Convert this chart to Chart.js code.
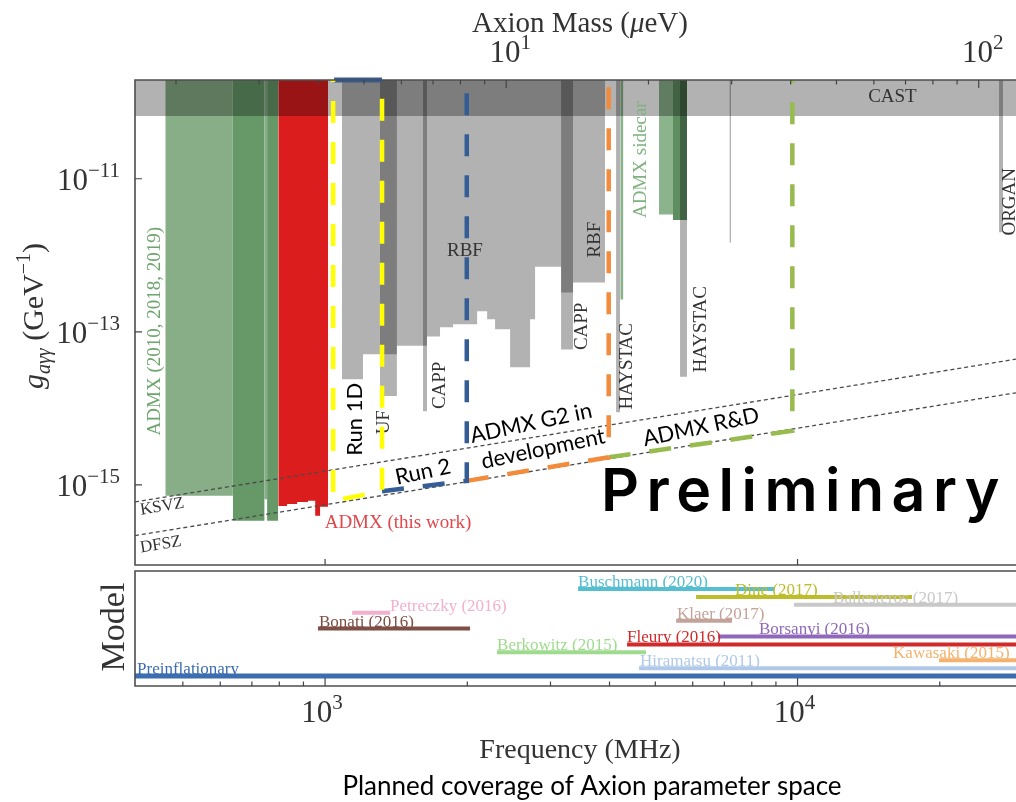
<!DOCTYPE html>
<html>
<head>
<meta charset="utf-8">
<title>Axion search coverage</title>
<script src="https://cdn.jsdelivr.net/npm/chart.js@4.4.1/dist/chart.umd.min.js"></script>
<style>
  body { margin: 0; background: #fff; }
  #stage { position: relative; width: 1016px; height: 802px; overflow: hidden; background: #fff; }
  #stage canvas { position: absolute; left: 0; top: 0; }
</style>
</head>
<body>
<div id="stage">
  <canvas id="limits" width="1016" height="802"></canvas>
  <canvas id="models" width="1016" height="802"></canvas>
</div>
<script>
const serif = '"Liberation Serif", "DejaVu Serif", serif';
const sans = 'Lato, "Open Sans", sans-serif';
const ink = '#333333';

// axis ranges
const freqMin = 396, freqMax = 29000;      // MHz
const gMin = 9.35e-17, gMax = 1.95e-10;    // GeV^-1
const mhzPerMicroEV = 241.8;
const massTicks = [2, 3, 4, 5, 6, 7, 8, 9, 10, 20, 30, 40, 50, 60, 70, 80, 90, 100];
const massLabels = [10, 100];
const gTicks = [1e-11, 1e-13, 1e-15];
const freqTicks = [500, 600, 700, 800, 900, 1000, 2000, 3000, 4000, 5000, 6000, 7000, 8000, 9000, 10000, 20000];
const freqLabels = [1000, 10000];

// exclusion limits, each entry is [f low (MHz), f high (MHz), g limit]
const castLimit = 6.6e-11;
const admxPastLight = [[459, 638, 7.2e-16], [744, 754, 6.5e-16]];
const admxPastDark = [[638, 744, 3.4e-16], [754, 796, 3.4e-16]];
const admxThisWork = [[796, 831, 5.3e-16], [831, 873, 5.65e-16], [873, 920, 6.0e-16],
                      [920, 953, 6.2e-16], [953, 976, 3.95e-16], [976, 1015, 5.2e-16]];
const admxSidecarLight = [[4215, 4275, 2.65e-13], [5090, 5450, 3.4e-12]];
const admxSidecarDark = [[5450, 5836, 2.9e-12]];
const rbf = [[1086, 1203, 2.4e-14], [1203, 1419, 5.1e-14], [1419, 1643, 6.6e-14],
             [1643, 1751, 8.7e-14], [1751, 1866, 1.15e-13], [1866, 2098, 1.26e-13],
             [2098, 2203, 1.86e-13], [2203, 2290, 1.46e-13], [2290, 2464, 1.08e-13],
             [2464, 2716, 3.44e-14], [2716, 2783, 1.46e-13], [2783, 3159, 7.1e-13],
             [3159, 3349, 3.27e-13], [3349, 3913, 4.4e-13]];
const uf = [[1307, 1419, 1.45e-14]];
const capp = [[1612, 1643, 9.2e-15], [3159, 3349, 5.9e-14]];
const haystac = [[4130, 4210, 8.9e-15], [5640, 5836, 2.6e-14]];
const otherGray = [[7175, 7235, 1.47e-12]];
const organ = [[26700, 27220, 2.0e-12]];

// benchmark model lines
const ksvzFreq = [396, 29000], ksvzG = [6.0e-16, 4.4e-14];
const dfszFreq = [396, 29000], dfszG = [2.18e-16, 1.6e-14];

// planned coverage: box edges in MHz and the coupling reached at each edge
const planEdges = [1040, 1320, 1995, 3984, 9750];
const planFloor = [6.2e-16, 8.3e-16, 1.13e-15, 2.3e-15, 5.1e-15];
const planColors = ['#ffff00', '#345d96', '#f28c3c', '#98bb4f'];
const run2TopEdge = [1045, 1320];

// dark matter mass predictions (bottom panel), one row each
const modelNames = ['Preinflationary', 'Hiramatsu (2011)', 'Kawasaki (2015)', 'Berkowitz (2015)',
                    'Fleury (2016)', 'Borsanyi (2016)', 'Bonati (2016)', 'Klaer (2017)',
                    'Petreczky (2016)', 'Ballesteros (2017)', 'Dine (2017)', 'Buschmann (2020)'];
const modelLo = [300, 4619, 19930, 2312, 4357, 6786, 966, 5534, 1141, 9831, 6099, 3431];
const modelHi = [40000, 40000, 40000, 4780, 40000, 40000, 2027, 7268, 1373, 40000, 17470, 8919];
const modelLabelAt = [400, 4642, 15930, 2312, 4357, 8287, 971, 5559, 1373, 11890, 7376, 3431];
const modelColors = ['#3c6db0', '#b0c9e8', '#f5b26e', '#9edb8e', '#d02a2a', '#9068bb',
                     '#7e4f45', '#c3a29a', '#f2b0cd', '#c8c8c8', '#bdbd2a', '#55bfd1'];

// names written on the limit plot
const expLabels = [
  { text: 'CAST', f: 15880, g: 1.17e-10, rot: 0, color: ink },
  { text: 'ADMX (2010, 2018, 2019)', f: 437, g: 1.02e-13, rot: -90, color: '#6ea56e' },
  { text: 'RBF', f: 1977, g: 1.15e-12, rot: 0, color: ink },
  { text: 'RBF', f: 3726, g: 1.6e-12, rot: -90, color: ink },
  { text: 'UF', f: 1333, g: 6.6e-15, rot: -90, color: ink },
  { text: 'CAPP', f: 1751, g: 2.0e-14, rot: -90, color: ink },
  { text: 'CAPP', f: 3499, g: 1.18e-13, rot: -90, color: ink },
  { text: 'HAYSTAC', f: 4357, g: 3.55e-14, rot: -90, color: ink },
  { text: 'ADMX sidecar', f: 4665, g: 1.77e-11, rot: -90, color: '#7fb27f' },
  { text: 'HAYSTAC', f: 6250, g: 1.08e-13, rot: -90, color: ink },
  { text: 'ORGAN', f: 28170, g: 5.0e-12, rot: -90, color: ink },
  { text: 'KSVZ', f: 452, g: 5.2e-16, rot: -9.2, color: ink },
  { text: 'DFSZ', f: 449, g: 1.65e-16, rot: -9.2, color: ink },
  { text: 'ADMX (this work)', f: 1427, g: 3.2e-16, rot: 0, color: '#e2474b' }
];

const notes = [
  { text: 'Run 1D', f: 1157, g: 7.2e-15, rot: -90 },
  { text: 'Run 2', f: 1612, g: 1.48e-15, rot: -12 },
  { text: 'ADMX G2 in', f: 2729, g: 6.4e-15, rot: -12 },
  { text: 'development', f: 2894, g: 2.95e-15, rot: -12 },
  { text: 'ADMX R&D', f: 6250, g: 5.7e-15, rot: -12 }
];

// ---------- helpers ----------
function bandPoints(ranges) {
  const pts = [];
  ranges.slice().sort((a, b) => a[0] - b[0]).forEach(([lo, hi, g]) => {
    pts.push({ x: lo, y: gMax }, { x: lo, y: g }, { x: hi, y: g }, { x: hi, y: gMax });
  });
  return pts;
}

function region(label, ranges, color, order) {
  return {
    label: label, data: bandPoints(ranges), fill: 'end', backgroundColor: color,
    borderColor: 'transparent', borderWidth: 0, pointRadius: 0, order: order, clip: 0
  };
}

function planPath(i) {
  const pts = [];
  if (i === 0) pts.push({ x: planEdges[0], y: gMax });
  pts.push({ x: planEdges[i], y: planFloor[i] });
  pts.push({ x: planEdges[i + 1], y: planFloor[i + 1] }, { x: planEdges[i + 1], y: gMax });
  return pts;
}

function putText(ctx, text, x, y, font, color, rotDeg, align) {
  ctx.save();
  ctx.translate(x, y);
  ctx.rotate((rotDeg || 0) * Math.PI / 180);
  ctx.font = font;
  ctx.fillStyle = color;
  ctx.textAlign = align || 'center';
  ctx.textBaseline = 'middle';
  ctx.fillText(text, 0, 0);
  ctx.restore();
}

// pieces of text with their own font and vertical shift (for sub/superscripts)
function richText(ctx, parts, x, y, align) {
  let w = 0;
  parts.forEach(p => { ctx.font = p.font; p.w = ctx.measureText(p.text).width; w += p.w; });
  let cx = align === 'right' ? x - w : align === 'center' ? x - w / 2 : x;
  ctx.textAlign = 'left';
  ctx.textBaseline = 'alphabetic';
  parts.forEach(p => { ctx.font = p.font; ctx.fillText(p.text, cx, y + (p.dy || 0)); cx += p.w; });
}

function pow10(ctx, exp, x, y, align) {
  richText(ctx, [
    { text: '10', font: `31px ${serif}` },
    { text: exp, font: `21px ${serif}`, dy: -13 }
  ], x, y, align);
}

// ---------- upper panel: coupling limits ----------
const limitSets = [];
planColors.forEach((c, i) => limitSets.push({
  label: 'plan' + i, data: planPath(i), borderColor: c, borderWidth: 4.5,
  borderDash: [22, 19], borderDashOffset: i === 0 ? 20 : 0, borderCapStyle: 'butt',
  fill: false, pointRadius: 0, order: 0,
  clip: { left: 0, top: 6, right: 0, bottom: 0 }
}));
limitSets.push({
  label: 'run2 top', data: run2TopEdge.map(f => ({ x: f, y: gMax })), borderColor: planColors[1],
  borderWidth: 5, fill: false, pointRadius: 0, order: 0, clip: { left: 0, top: 6, right: 0, bottom: 0 }
});
limitSets.push({
  label: 'KSVZ', data: ksvzFreq.map((f, i) => ({ x: f, y: ksvzG[i] })), borderColor: '#4a4a4a',
  borderWidth: 1.3, borderDash: [4, 3], fill: false, pointRadius: 0, order: 1, clip: 0
});
limitSets.push({
  label: 'DFSZ', data: dfszFreq.map((f, i) => ({ x: f, y: dfszG[i] })), borderColor: '#4a4a4a',
  borderWidth: 1.3, borderDash: [4, 3], fill: false, pointRadius: 0, order: 1, clip: 0
});
limitSets.push(region('CAST', [[300, 40000, castLimit]], 'rgba(0,0,0,0.3)', 2));
limitSets.push(region('RBF', rbf, 'rgba(0,0,0,0.3)', 3));
limitSets.push(region('UF', uf, 'rgba(0,0,0,0.3)', 3));
limitSets.push(region('CAPP', capp, 'rgba(0,0,0,0.3)', 3));
limitSets.push(region('HAYSTAC', haystac, 'rgba(0,0,0,0.3)', 3));
limitSets.push(region('other', otherGray, 'rgba(0,0,0,0.3)', 3));
limitSets.push(region('ORGAN', organ, 'rgba(0,0,0,0.3)', 3));
limitSets.push(region('ADMX past', admxPastLight, '#87ae87', 4));
limitSets.push(region('ADMX past deep', admxPastDark, '#669868', 4));
limitSets.push(region('ADMX this work', admxThisWork, '#dc1d1d', 4));
limitSets.push(region('ADMX sidecar', admxSidecarLight, '#8cb48c', 4));
limitSets.push(region('ADMX sidecar deep', admxSidecarDark, '#5f8e61', 4));

const limitDecor = {
  id: 'limitDecor',
  afterDatasetDraw(chart, args) {
    // experiment names go above the shaded limits but under the planned boxes
    if (chart.data.datasets[args.index].label !== 'CAST') return;
    const { ctx, scales: { x, y } } = chart;
    expLabels.forEach(l => {
      putText(ctx, l.text, x.getPixelForValue(l.f), y.getPixelForValue(l.g),
        `${l.rot === -9.2 ? 17 : 19}px ${serif}`, l.color, l.rot);
    });
  },
  afterDatasetsDraw(chart) {
    const { ctx, scales: { x, y } } = chart;
    notes.forEach(n => {
      putText(ctx, n.text, x.getPixelForValue(n.f), y.getPixelForValue(n.g),
        `22px ${sans}`, '#000', n.rot);
    });
    ctx.save();
    ctx.font = `600 59px Inter, "Liberation Sans", sans-serif`;
    ctx.letterSpacing = '7.5px';
    ctx.fillStyle = '#000';
    ctx.textAlign = 'left';
    ctx.textBaseline = 'alphabetic';
    ctx.fillText('Preliminary', x.getPixelForValue(3837), y.getPixelForValue(4.58e-16));
    ctx.restore();
  },
  afterDraw(chart) {
    const { ctx, chartArea: a, scales: { x, y } } = chart;
    ctx.save();
    ctx.strokeStyle = '#4d4d4d';
    ctx.lineWidth = 1.6;
    ctx.beginPath();
    ctx.moveTo(a.right + 2, a.top);
    ctx.lineTo(a.left, a.top);
    ctx.lineTo(a.left, a.bottom);
    ctx.lineTo(a.right + 2, a.bottom);
    ctx.stroke();

    ctx.lineWidth = 1.2;
    ctx.strokeStyle = '#444';
    ctx.beginPath();
    massTicks.forEach(m => {
      const xp = x.getPixelForValue(m * mhzPerMicroEV);
      const len = massLabels.includes(m) ? 8 : 4.5;
      ctx.moveTo(xp, a.top); ctx.lineTo(xp, a.top + len);
    });
    gTicks.forEach(g => {
      const yp = y.getPixelForValue(g);
      ctx.moveTo(a.left, yp); ctx.lineTo(a.left + 7, yp);
    });
    freqLabels.forEach(f => {
      const xp = x.getPixelForValue(f);
      ctx.moveTo(xp, a.bottom); ctx.lineTo(xp, a.bottom - 6);
    });
    ctx.stroke();

    ctx.fillStyle = ink;
    gTicks.forEach(g => pow10(ctx, '\u2212' + Math.round(-Math.log10(g)), a.left - 15, y.getPixelForValue(g) + 11, 'right'));
    massLabels.forEach(m => pow10(ctx, String(Math.round(Math.log10(m))), x.getPixelForValue(m * mhzPerMicroEV) + 4, 62, 'center'));

    richText(ctx, [
      { text: 'Axion Mass (', font: `29px ${serif}` },
      { text: '\u03bc', font: `italic 29px ${serif}` },
      { text: 'eV)', font: `29px ${serif}` }
    ], 580, 32, 'center');

    ctx.save();
    ctx.translate(43, 316);
    ctx.rotate(-Math.PI / 2);
    richText(ctx, [
      { text: 'g', font: `italic 30px ${serif}` },
      { text: 'a\u03b3\u03b3', font: `italic 20px ${serif}`, dy: 7 },
      { text: ' (GeV', font: `30px ${serif}` },
      { text: '\u22121', font: `20px ${serif}`, dy: -13 },
      { text: ')', font: `30px ${serif}` }
    ], 0, 0, 'center');
    ctx.restore();
    ctx.restore();
  }
};

new Chart(document.getElementById('limits'), {
  type: 'line',
  data: { datasets: limitSets },
  options: {
    responsive: false,
    animation: false,
    events: [],
    layout: { padding: { left: 135, top: 80, right: 0, bottom: 237 } },
    scales: {
      x: { type: 'logarithmic', min: freqMin, max: freqMax, display: false },
      y: { type: 'logarithmic', min: gMin, max: gMax, display: false }
    },
    elements: { line: { tension: 0 }, point: { radius: 0 } },
    plugins: { legend: { display: false }, tooltip: { enabled: false } }
  },
  plugins: [limitDecor]
});

// ---------- lower panel: model predictions ----------
const modelSets = modelNames.map((name, i) => ({
  label: name,
  data: [{ x: modelLo[i], y: i }, { x: modelHi[i], y: i }],
  borderColor: modelColors[i],
  borderWidth: i === 0 ? 5 : 4,
  borderCapStyle: 'butt',
  fill: false, pointRadius: 0,
  clip: { left: 0, top: 5, right: 0, bottom: 5 }
}));

const modelDecor = {
  id: 'modelDecor',
  afterDatasetsDraw(chart) {
    const { ctx, scales: { x, y } } = chart;
    ctx.save();
    ctx.font = `17px ${serif}`;
    ctx.textAlign = 'left';
    ctx.textBaseline = 'alphabetic';
    modelNames.forEach((name, i) => {
      ctx.fillStyle = modelColors[i];
      ctx.fillText(name, x.getPixelForValue(modelLabelAt[i]), y.getPixelForValue(i) - 2);
    });
    ctx.restore();
  },
  afterDraw(chart) {
    const { ctx, chartArea: a, scales: { x } } = chart;
    ctx.save();
    ctx.strokeStyle = '#4d4d4d';
    ctx.lineWidth = 1.6;
    ctx.beginPath();
    ctx.moveTo(a.right + 2, a.top);
    ctx.lineTo(a.left, a.top);
    ctx.lineTo(a.left, a.bottom);
    ctx.lineTo(a.right + 2, a.bottom);
    ctx.stroke();

    ctx.lineWidth = 1.2;
    ctx.strokeStyle = '#444';
    ctx.beginPath();
    freqTicks.forEach(f => {
      const xp = x.getPixelForValue(f);
      const len = freqLabels.includes(f) ? 8 : 4.5;
      ctx.moveTo(xp, a.bottom); ctx.lineTo(xp, a.bottom - len);
    });
    ctx.stroke();

    ctx.fillStyle = ink;
    freqLabels.forEach(f => pow10(ctx, String(Math.round(Math.log10(f))), x.getPixelForValue(f) - 3, 722, 'center'));
    richText(ctx, [{ text: 'Frequency (MHz)', font: `28px ${serif}` }], 580, 758, 'center');

    ctx.save();
    ctx.translate(124, 627);
    ctx.rotate(-Math.PI / 2);
    richText(ctx, [{ text: 'Model', font: `34px ${serif}` }], 0, 0, 'center');
    ctx.restore();

    ctx.fillStyle = '#000';
    richText(ctx, [{ text: 'Planned coverage of Axion parameter space', font: `26px ${sans}` }], 592, 795, 'center');
    ctx.restore();
  }
};

new Chart(document.getElementById('models'), {
  type: 'line',
  data: { datasets: modelSets },
  options: {
    responsive: false,
    animation: false,
    events: [],
    layout: { padding: { left: 135, top: 571, right: 0, bottom: 116 } },
    scales: {
      x: { type: 'logarithmic', min: freqMin, max: freqMax, display: false },
      y: { type: 'linear', min: -1.26, max: 13.28, display: false }
    },
    elements: { line: { tension: 0 }, point: { radius: 0 } },
    plugins: { legend: { display: false }, tooltip: { enabled: false } }
  },
  plugins: [modelDecor]
});
</script>
</body>
</html>
